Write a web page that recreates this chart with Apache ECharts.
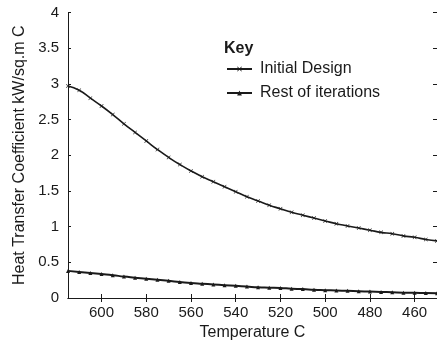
<!DOCTYPE html>
<html>
<head>
<meta charset="utf-8">
<script src="https://cdn.jsdelivr.net/npm/echarts@6/dist/echarts.min.js"></script>
<style>html,body{margin:0;padding:0;background:#fff}#c{width:437px;height:341px}</style>
</head>
<body>
<div id="c"></div>
<script>
const temperatures = [615,610,605,600,595,590,585,580,575,570,565,560,555,550,545,540,535,530,525,520,515,510,505,500,495,490,485,480,475,470,465,460,455,450];
const initialDesign = [2.97,2.91,2.80,2.69,2.57,2.44,2.32,2.20,2.08,1.97,1.87,1.78,1.70,1.63,1.56,1.49,1.42,1.36,1.30,1.25,1.20,1.16,1.12,1.08,1.04,1.01,0.98,0.95,0.92,0.90,0.87,0.85,0.82,0.80];
const restOfIterations = [0.38,0.365,0.35,0.335,0.32,0.30,0.285,0.27,0.255,0.24,0.225,0.21,0.20,0.19,0.18,0.17,0.16,0.15,0.145,0.14,0.13,0.125,0.115,0.11,0.105,0.10,0.095,0.09,0.085,0.08,0.075,0.072,0.07,0.068];
const xTickValues = [600,580,560,540,520,500,480,460];
const seriesNames = ['Initial Design','Rest of iterations'];
const xName = 'Temperature C';
const yName = 'Heat Transfer Coefficient kW/sq.m C';
const legendTitle = 'Key';

const FONT = 'Liberation Sans, Arial, sans-serif';
const INK = '#1a1a1a';
const crossPath = 'path://M0,1L1,0L5,4L9,0L10,1L6,5L10,9L9,10L5,6L1,10L0,9L4,5Z';

const chart = echarts.init(document.getElementById('c'), null, {renderer:'canvas'});
const xCommon = {
  type:'value', min:450, max:615, inverse:true,
  splitLine:{show:false},
  axisLine:{show:true, lineStyle:{color:INK, width:1}},
};
const yCommon = {
  type:'value', min:0, max:4, interval:0.5,
  splitLine:{show:false},
};
chart.setOption({
  animation:false,
  backgroundColor:'#fff',
  textStyle:{fontFamily:FONT},
  grid:{left:68, right:0, top:12.5, bottom:43, containLabel:false, outerBoundsMode:'none'},
  xAxis:[
    Object.assign({}, xCommon, {
      position:'bottom',
      name:xName, nameLocation:'middle', nameGap:22,
      nameTextStyle:{fontFamily:FONT, fontSize:16, color:INK},
      axisTick:{show:true, inside:true, length:4, customValues:xTickValues, lineStyle:{color:INK}},
      axisLabel:{show:true, margin:7, fontFamily:FONT, fontSize:15, color:INK, customValues:xTickValues}
    }),
    Object.assign({}, xCommon, {
      position:'top',
      axisTick:{show:true, inside:true, length:4, customValues:xTickValues, lineStyle:{color:INK}},
      axisLabel:{show:false}
    })
  ],
  yAxis:[
    Object.assign({}, yCommon, {
      position:'left',
      name:yName, nameLocation:'middle', nameGap:35,
      nameTextStyle:{fontFamily:FONT, fontSize:16, color:INK},
      axisLine:{show:true, lineStyle:{color:INK, width:1}},
      axisTick:{show:true, inside:true, length:3, lineStyle:{color:INK}},
      axisLabel:{show:true, margin:9, fontFamily:FONT, fontSize:15, color:INK}
    }),
    Object.assign({}, yCommon, {
      position:'right',
      axisLine:{show:false},
      axisTick:{show:true, inside:true, length:4, lineStyle:{color:INK}},
      axisLabel:{show:false}
    })
  ],
  legend:{
    orient:'vertical', left:226, top:61, padding:0, itemWidth:25, itemHeight:6, itemGap:8,
    textStyle:{fontFamily:FONT, fontSize:16, color:INK, padding:[0,0,0,3]},
    data:seriesNames
  },
  graphic:[{
    type:'text', left:224, top:41,
    style:{text:legendTitle, font:'bold 16px Liberation Sans, Arial, sans-serif', fill:INK}
  }],
  series:[
    {
      name:seriesNames[0], type:'line', smooth:true,
      data:temperatures.map((t,i)=>[t, initialDesign[i]]),
      symbol:crossPath, symbolSize:4, showSymbol:true,
      lineStyle:{color:INK, width:1.6},
      itemStyle:{color:INK}
    },
    {
      name:seriesNames[1], type:'line', smooth:true,
      data:temperatures.map((t,i)=>[t, restOfIterations[i]]),
      symbol:'triangle', symbolSize:4, showSymbol:true,
      lineStyle:{color:INK, width:2},
      itemStyle:{color:INK}
    }
  ]
});
</script>
</body>
</html>
